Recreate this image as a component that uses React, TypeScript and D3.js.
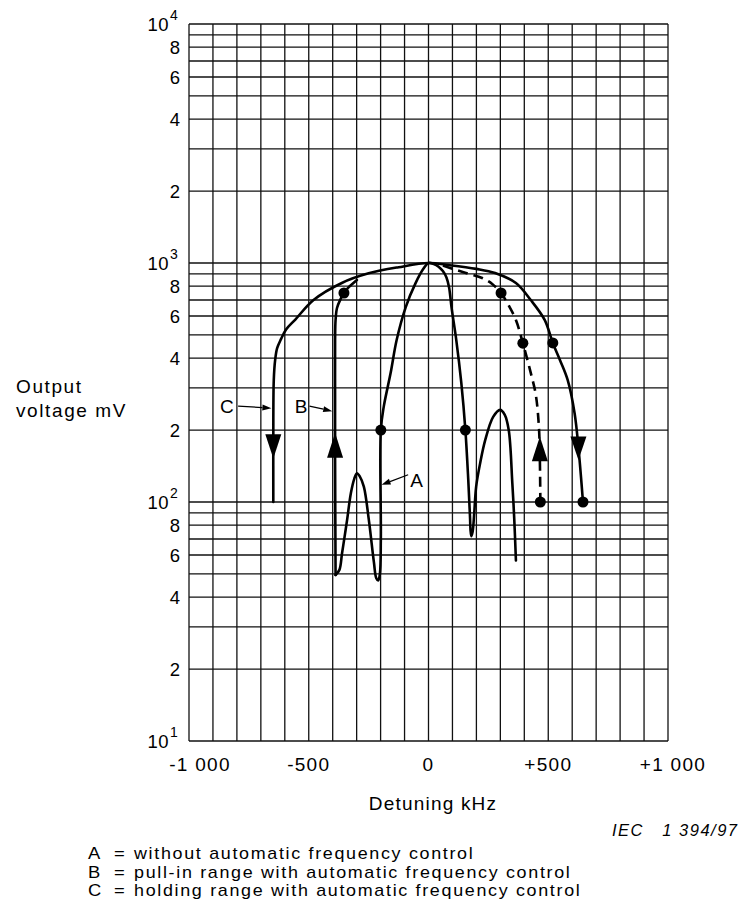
import * as d3 from 'd3'

// detuning (kHz) vs output voltage (mV)
const cX = [-648, -648, -646, -640, -632, -616, -594, -556, -480, -362, -250, -125, 0, 85, 200, 278, 365, 427, 485, 519, 550, 581, 610, 627, 645]
const cY = [100, 180, 324, 395, 440, 480, 528, 580, 700, 825, 905, 960, 1000, 980, 945, 908, 825, 700, 578, 463, 390, 324, 235, 165, 100]

const bLeftX = [-388, -390, -390, -390, -388, -382, -367, -353, -332, -299]
const bLeftY = [49.5, 150, 267, 476, 578, 648, 707, 749, 794, 849]

const bRightX = [60, 116, 170, 224, 266, 303, 336, 365, 394, 427, 448, 461, 465, 467]
const bRightY = [975, 935, 899, 865, 817, 749, 661, 578, 462, 347, 281, 206, 150, 100]

const aX = [-388, -372, -361, -350, -340, -324, -310, -299, -287, -270, -249, -228, -218, -210, -203, -199, -199, -187, -158, -133, -95, -54, -20, 0, 22, 42, 60, 75, 86, 96, 116, 137, 154, 166, 173, 178, 184, 191, 199, 216, 237, 270, 299, 318, 335, 350, 358, 365]
const aY = [49.5, 52, 61, 72, 84, 109, 125, 132, 128, 116, 84, 56, 48, 47, 50, 70, 200, 250, 347, 476, 654, 824, 950, 1000, 990, 965, 925, 870, 790, 654, 476, 315, 200, 124, 88, 72, 75, 90, 116, 146, 182, 227, 243, 232, 200, 120, 85, 57]

const dotX = [-353, -199, 154, 303, 394, 519, 467, 645]
const dotY = [749, 200, 200, 749, 462, 463, 100, 100]

// filled arrowheads on the curves: tip and base value
const arrowX = [-648, -390, 465, 626]
const arrowTip = [152, 195, 188, 150]
const arrowBase = [192, 153, 148, 188]

// curve labels with their pointer lines
const labelText = ['C', 'B', 'A']
const labelX = [-842, -532, -50]
const labelY = [252, 252, 124]
const pointerFrom = [[-795, 252], [-497, 252], [-85, 130]]
const pointerTo = [[-656, 247], [-402, 240], [-196, 118]]

const xTicks = [-1000, -500, 0, 500, 1000]
const xTickLabels = ['-1 000', '-500', '0', '+500', '+1 000']
const yTickVals = [10000, 8000, 6000, 4000, 2000, 1000, 800, 600, 400, 200, 100, 80, 60, 40, 20, 10]

const legendKeys = ['A', 'B', 'C']
const legendTexts = [
  'without automatic frequency control',
  'pull-in range with automatic frequency control',
  'holding range with automatic frequency control',
]

const FONT = "'Liberation Sans', Arial, Helvetica, sans-serif"

export default function App() {
  const W = 748, H = 905
  const x = d3.scaleLinear().domain([-1000, 1000]).range([189, 668])
  const y = d3.scaleLog().domain([10, 10000]).range([741, 24])

  const line = d3.line<number[]>()
    .x(d => x(d[0]))
    .y(d => y(d[1]))
    .curve(d3.curveCatmullRom.alpha(0.5))
  const pts = (xs: number[], ys: number[]) => xs.map((v, i) => [v, ys[i]])

  const vGrid = d3.range(-1000, 1001, 100)
  const hGrid: number[] = []
  ;[10, 100, 1000].forEach(d => { for (let m = 1; m < 10; m++) hGrid.push(d * m) })
  hGrid.push(10000)

  return (
    <div style={{ position: 'absolute', left: 0, top: 0, background: '#fff' }}>
      <svg width={W} height={H} style={{ display: 'block' }} fontFamily={FONT}>
        <rect width={W} height={H} fill="#fff" />

        {/* grid */}
        <g stroke="#111" strokeWidth={1.3}>
          {vGrid.map(v => <line key={'v' + v} x1={x(v)} x2={x(v)} y1={y(10000)} y2={y(10)} />)}
          {hGrid.map(v => <line key={'h' + v} x1={x(-1000)} x2={x(1000)} y1={y(v)} y2={y(v)} />)}
        </g>

        {/* y tick labels */}
        <g fontSize={18.5} fill="#000">
          {yTickVals.map(v => {
            const e = Math.log10(v)
            const isPow = Math.abs(e - Math.round(e)) < 1e-9
            if (isPow) {
              return (
                <g key={'yl' + v}>
                  <text x={169} y={y(v) + 7} textAnchor="end" letterSpacing={0.5}>10</text>
                  <text x={170} y={y(v) - 4} fontSize={14}>{Math.round(e)}</text>
                </g>
              )
            }
            const lead = Math.round(v / Math.pow(10, Math.floor(e)))
            return <text key={'yl' + v} x={180} y={y(v) + 7} textAnchor="end">{lead}</text>
          })}
        </g>

        {/* x tick labels */}
        <g fontSize={19} fill="#000" textAnchor="middle" letterSpacing={1.3}>
          {xTicks.map((v, i) => (
            <text key={'xl' + v} x={x(v) + (i === 0 ? 11 : i === xTicks.length - 1 ? 5 : 0)} y={771}>{xTickLabels[i]}</text>
          ))}
        </g>

        {/* axis titles */}
        <text x={433} y={810} fontSize={19} textAnchor="middle" letterSpacing={1.2}>Detuning kHz</text>
        <text x={16} y={393} fontSize={19} letterSpacing={1.6}>Output</text>
        <text x={16} y={417} fontSize={19} letterSpacing={1.6}>voltage mV</text>
        <text x={612} y={836} fontSize={16.5} fontStyle="italic" letterSpacing={1.5}>IEC{'\u00a0\u00a0\u00a0'}1 394/97</text>

        {/* curves */}
        <g fill="none" stroke="#000" strokeWidth={2.6} strokeLinecap="round" strokeLinejoin="round">
          <path d={line(pts(cX, cY)) || ''} />
          <path d={line(pts(bLeftX, bLeftY)) || ''} />
          <path d={line(pts(aX, aY)) || ''} />
          <path d={line(pts(bRightX, bRightY)) || ''} strokeDasharray="10 6" strokeLinecap="butt" />
        </g>

        {/* arrowheads */}
        <g fill="#000">
          {arrowX.map((v, i) => {
            const cx = x(v), ty = y(arrowTip[i]), by = y(arrowBase[i])
            return <path key={'ar' + i} d={`M${cx},${ty}L${cx - 8},${by}L${cx + 8},${by}Z`} />
          })}
        </g>

        {/* dots */}
        <g fill="#000">
          {dotX.map((v, i) => <circle key={'d' + i} cx={x(v)} cy={y(dotY[i])} r={5.5} />)}
        </g>

        {/* curve labels */}
        {labelText.map((t, i) => {
          const x1 = x(pointerFrom[i][0]), y1 = y(pointerFrom[i][1])
          const x2 = x(pointerTo[i][0]), y2 = y(pointerTo[i][1])
          const ang = Math.atan2(y2 - y1, x2 - x1)
          const L = 9, hw = 3
          const bx = x2 - L * Math.cos(ang), by = y2 - L * Math.sin(ang)
          const px = -Math.sin(ang) * hw, py = Math.cos(ang) * hw
          return (
            <g key={'lab' + t}>
              <text x={x(labelX[i])} y={y(labelY[i]) + 7} fontSize={19} textAnchor="middle">{t}</text>
              <line x1={x1} y1={y1} x2={bx} y2={by} stroke="#000" strokeWidth={1.2} />
              <path d={`M${x2},${y2}L${bx + px},${by + py}L${bx - px},${by - py}Z`} fill="#000" />
            </g>
          )
        })}

        {/* legend: slightly widened glyphs like the scanned original */}
        <g fontSize={16} fill="#000">
          {legendKeys.map((k, i) => {
            const by = 859 + i * 18.5
            return (
              <g key={'lg' + k}>
                <text transform={`translate(88,${by}) scale(1.15,1)`}>{k}</text>
                <text transform={`translate(114,${by}) scale(1.15,1)`}>=</text>
                <text transform={`translate(134,${by}) scale(1.12,1)`} letterSpacing={1.5}>{legendTexts[i]}</text>
              </g>
            )
          })}
        </g>
      </svg>
    </div>
  )
}
